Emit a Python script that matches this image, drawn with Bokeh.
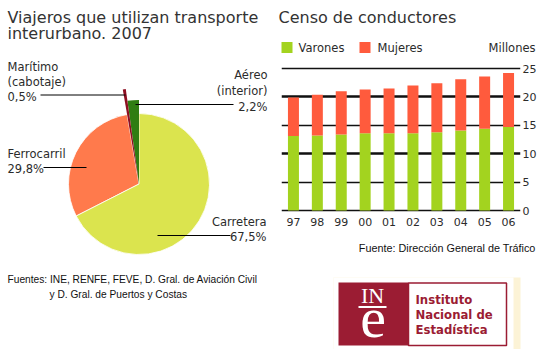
import math
from bokeh.plotting import figure
from bokeh.layouts import row, column
from bokeh.models import Range1d, FactorRange, FixedTicker, Grid, ColumnDataSource
from bokeh.core.properties import value
from bokeh.embed import file_html
from bokeh.resources import INLINE

# ---------------- data ----------------
pie_names = ["Aéreo", "Marítimo", "Ferrocarril", "Carretera"]
pie_sub = ["(interior)", "(cabotaje)", "", ""]
pie_pct = [2.2, 0.5, 29.8, 67.5]
pie_colors = ["#2f7d12", "#8e0f22", "#ff7a4c", "#dbe44e"]

years = ["97", "98", "99", "00", "01", "02", "03", "04", "05", "06"]
varones = [13.1, 13.2, 13.4, 13.6, 13.6, 13.6, 13.8, 14.1, 14.4, 14.7]
mujeres = [6.8, 7.2, 7.6, 7.7, 7.9, 8.4, 8.6, 9.0, 9.2, 9.5]
series = ["Varones", "Mujeres"]
bar_colors = ["#a3d31f", "#ff5b3d"]
y_ticks = [0, 5, 10, 15, 20, 25]

FONT = "DejaVu Sans"
SRCFONT = "Liberation Sans"
TXT = "#2b2b2b"
H = 357


def Y(v):
    return H - v


def blank(x0, x1, y0, y1):
    f = figure(width=x1 - x0, height=y1 - y0, x_range=Range1d(x0, x1),
               y_range=Range1d(Y(y1), Y(y0)), output_backend="svg",
               toolbar_location=None, min_border=0, frame_align=False)
    f.axis.visible = False
    f.grid.visible = False
    f.outline_line_color = None
    f.background_fill_color = "white"
    f.border_fill_color = "white"
    return f


def txt(f, x, y, s, size, align="left", color=TXT, font=FONT, style="normal",
        baseline="middle"):
    f.text(x=[x], y=[y], text=[s], text_font=value(font), text_font_size=size,
           text_align=align, text_baseline=baseline, text_color=color,
           text_font_style=style)


# ---------------- pie ----------------
pie = blank(0, 272, 0, 349)
txt(pie, 7, Y(17), "Viajeros que utilizan transporte", "16px", color="#333333")
txt(pie, 7, Y(33), "interurbano. 2007", "16px", color="#333333")

cx, cy = 138.5, Y(183.5)
radii = [84, 96, 70.5, 70.5]
total = sum(pie_pct)
starts, ends = [], []
a = math.pi / 2
for v in pie_pct:
    starts.append(a)
    a += v / total * 2 * math.pi
    ends.append(a)
big = ColumnDataSource(dict(start=starts[2:], end=ends[2:], r=radii[2:],
                            color=pie_colors[2:], x=[cx] * 2, y=[cy] * 2))
small = ColumnDataSource(dict(start=starts[:2], end=ends[:2], r=radii[:2],
                              color=pie_colors[:2], x=[cx] * 2, y=[cy] * 2))
pie.wedge(x="x", y="y", radius="r", start_angle="start", end_angle="end",
          fill_color="color", line_color="white", line_width=0.8, source=big)
pie.wedge(x="x", y="y", radius="r", start_angle="start", end_angle="end",
          fill_color="color", line_color=None, source=small)


def pct(v):
    return ("%.1f" % v).replace(".", ",") + "%"


# labels
txt(pie, 7, Y(66), pie_names[1], "11.5px")
txt(pie, 7, Y(81), pie_sub[1], "11.5px")
txt(pie, 7, Y(96.5), pct(pie_pct[1]), "11.5px")
pie.segment(x0=[40], y0=[Y(94.5)], x1=[125], y1=[Y(94.5)], line_color="black", line_width=1)
txt(pie, 267, Y(74), pie_names[0], "11.5px", align="right")
txt(pie, 267, Y(90), pie_sub[0], "11.5px", align="right")
txt(pie, 267, Y(106), pct(pie_pct[0]), "11.5px", align="right")
pie.segment(x0=[135], y0=[Y(104)], x1=[233], y1=[Y(104)], line_color="black", line_width=1)
txt(pie, 7, Y(153), pie_names[2], "11.5px")
txt(pie, 7, Y(168), pct(pie_pct[2]), "11.5px")
pie.segment(x0=[43], y0=[Y(167)], x1=[86], y1=[Y(167)], line_color="black", line_width=1)
txt(pie, 266, Y(221), pie_names[3], "11.5px", align="right")
txt(pie, 266, Y(236), pct(pie_pct[3]), "11.5px", align="right")
pie.segment(x0=[157], y0=[Y(235)], x1=[230], y1=[Y(235)], line_color="black", line_width=1)

txt(pie, 7, Y(279), "Fuentes: INE, RENFE, FEVE, D. Gral. de  Aviación Civil", "10.2px",
    font=SRCFONT, color="#111111")
txt(pie, 49, Y(294), "y D. Gral. de Puertos y Costas", "10.2px", font=SRCFONT, color="#111111")

# ---------------- right top (title + legend) ----------------
top = blank(272, 544, 0, 58)
txt(top, 278, Y(17), "Censo de conductores", "16px", color="#333333")
top.quad(left=[281, 359], right=[292, 370], top=[Y(41.5), Y(41.5)],
         bottom=[Y(52.5), Y(52.5)], fill_color=bar_colors, line_color=None)
txt(top, 298, Y(47), series[0], "11.5px")
txt(top, 377, Y(47), series[1], "11.5px")
txt(top, 535, Y(47), "Millones", "11.5px", align="right")

# ---------------- bar chart ----------------
bsrc = ColumnDataSource(dict(years=years, Varones=varones, Mujeres=mujeres))
bar = figure(x_range=FactorRange(factors=years, range_padding=0),
             y_range=Range1d(-0.35, 26.06), width=272, height=174,
             output_backend="svg", toolbar_location=None, frame_align=False,
             y_axis_location="right", min_border_left=9, min_border_right=24,
             min_border_top=4, min_border_bottom=20)
bar.vbar_stack(series, x="years", width=0.46, color=bar_colors, line_color=None,
               source=bsrc)
bar.outline_line_color = None
bar.background_fill_color = "white"
bar.border_fill_color = "white"
bar.xgrid.visible = False
bar.ygrid.ticker = FixedTicker(ticks=[t for t in y_ticks if t % 10 != 0 or t == 0])
bar.ygrid.grid_line_color = "#111111"
bar.ygrid.grid_line_width = 1.3
bar.add_layout(Grid(dimension=1,
                    ticker=FixedTicker(ticks=[t for t in y_ticks if t % 10 == 0 and t > 0]),
                    grid_line_color="#111111", grid_line_width=2.7))
bar.yaxis.ticker = FixedTicker(ticks=y_ticks)
for ax in (bar.xaxis[0], bar.yaxis[0]):
    ax.axis_line_color = None
    ax.major_tick_line_color = None
    ax.minor_tick_line_color = None
    ax.major_tick_out = 0
    ax.major_tick_in = 0
    ax.major_label_text_font = FONT
    ax.major_label_text_font_size = "11px"
    ax.major_label_text_color = TXT
bar.yaxis.major_label_standoff = 2
bar.xaxis.major_label_standoff = 5

# ---------------- right bottom (source + logo) ----------------
bot = blank(272, 544, 232, 349)
txt(bot, 535, Y(247), "Fuente: Dirección General de Tráfico", "10.8px", align="right",
    font=SRCFONT, color="#111111")
INE = "#9b1c33"
bot.quad(left=[333], right=[520], top=[Y(277)], bottom=[Y(357)], fill_color="#fcf3d6",
         line_color=None)
bot.quad(left=[333], right=[513], top=[Y(277)], bottom=[Y(350)], fill_color="white",
         line_color=None)
bot.quad(left=[338], right=[408], top=[Y(282)], bottom=[Y(345)], fill_color=INE,
         line_color=None)
bot.quad(left=[408], right=[506], top=[Y(282.5)], bottom=[Y(345)], fill_color="white",
         line_color=INE, line_width=1.5)
txt(bot, 372, Y(294.5), "IN", "22px", align="center", color="white",
    font="Liberation Serif")
bot.segment(x0=[358], y0=[Y(306.5)], x1=[386], y1=[Y(306.5)], line_color="white", line_width=2)
txt(bot, 372.5, Y(317.5), "e", "58px", align="center", color="white",
    font="Liberation Serif")
for i, s in enumerate(["Instituto", "Nacional de", "Estadística"]):
    txt(bot, 415, Y(299 + 15 * i), s, "11.7px", color=INE, style="bold")

layout = row(pie, column(top, bar, bot))
open("out.html", "w").write(file_html(layout, INLINE))
